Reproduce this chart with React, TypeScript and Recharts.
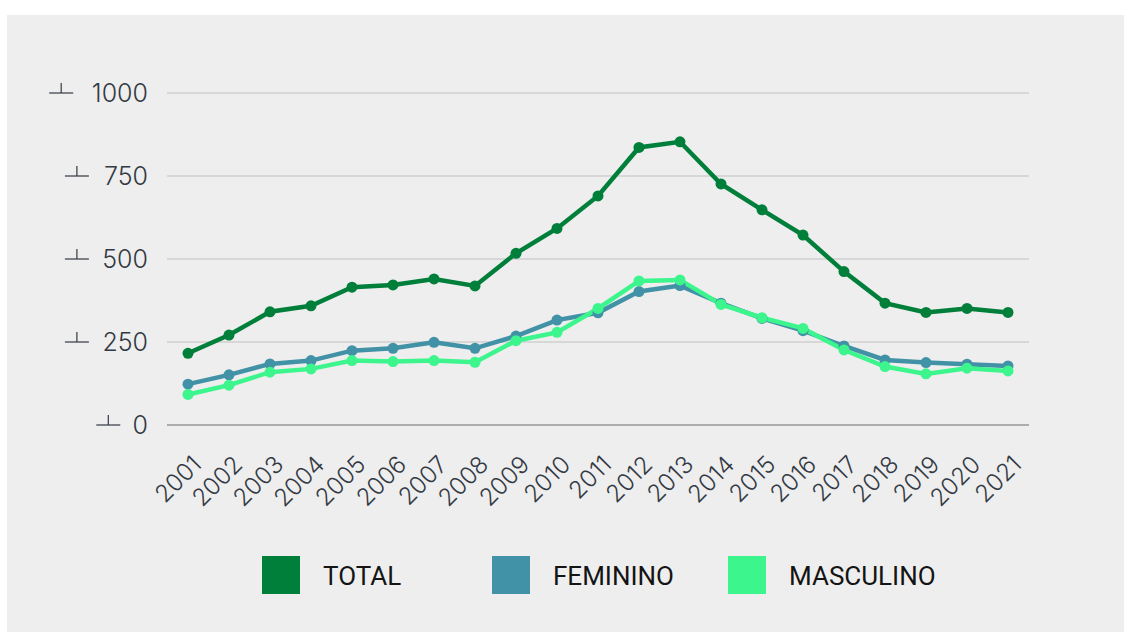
import { CartesianGrid, Line, LineChart, XAxis, YAxis } from "recharts";

const YEARS = [
  "2001", "2002", "2003", "2004", "2005", "2006", "2007", "2008", "2009", "2010", "2011",
  "2012", "2013", "2014", "2015", "2016", "2017", "2018", "2019", "2020", "2021",
];
const TOTAL = [216, 271, 341, 359, 415, 422, 440, 419, 517, 592, 690, 836, 853, 726, 648, 572, 462, 367, 339, 351, 339];
const FEMININO = [123, 151, 184, 194, 224, 231, 249, 231, 268, 316, 338, 402, 420, 367, 321, 284, 238, 196, 188, 183, 178];
const MASCULINO = [92, 120, 159, 169, 194, 191, 194, 189, 254, 279, 351, 434, 437, 363, 323, 291, 226, 176, 154, 171, 163];
const Y_TICKS = [0, 250, 500, 750, 1000];

const SERIES = [
  { key: "total", name: "TOTAL", color: "#007f3a" },
  { key: "fem", name: "FEMININO", color: "#4192a6" },
  { key: "masc", name: "MASCULINO", color: "#3cf58d" },
];

const data = YEARS.map((year, i) => ({
  year,
  total: TOTAL[i],
  fem: FEMININO[i],
  masc: MASCULINO[i],
}));

const LABEL_RIGHT = 148;
const FONT = "Inter, 'Noto Sans', sans-serif";

function YTick({ y, payload }: any) {
  const label = String(payload.value);
  // rough width so the little up-tack sits just left of the number
  const w = label.length * 15.7;
  const tx = LABEL_RIGHT - w - 12;
  return (
    <g>
      <line x1={tx - 24} x2={tx} y1={y} y2={y} stroke="#333a44" strokeWidth={1.2} />
      <line x1={tx - 12} x2={tx - 12} y1={y - 10} y2={y} stroke="#333a44" strokeWidth={1.2} />
      <text x={LABEL_RIGHT} y={y} dy={9} textAnchor="end" fill="#333a44" fontSize={25} fontFamily={FONT} fontWeight={300}>
        {label}
      </text>
    </g>
  );
}

function XTick({ x, y, payload }: any) {
  const ax = x + 15;
  const ay = y + 33;
  return (
    <text
      x={ax}
      y={ay}
      textAnchor="end"
      fill="#333a44"
      fontSize={24}
      fontWeight={300}
      fontFamily={FONT}
      transform={`rotate(-45, ${ax}, ${ay})`}
    >
      {payload.value}
    </text>
  );
}

const LEGEND_X = [262, 492, 728];

export default function App() {
  return (
    <div style={{ position: "absolute", left: 0, top: 0, width: 1131, height: 637, background: "#fff" }}>
      <div style={{ position: "absolute", left: 7, top: 15, width: 1117, height: 617, background: "#eeeeee" }} />
      <div style={{ position: "absolute", left: 0, top: 0 }}>
        <LineChart
          width={1131}
          height={540}
          data={data}
          margin={{ top: 93, right: 102, bottom: 55, left: 47 }}
        >
          <CartesianGrid stroke="#cfcfcf" strokeWidth={1.5} vertical={false} />
          <XAxis
            dataKey="year"
            height={60}
            interval={0}
            padding={{ left: 21, right: 21 }}
            tickLine={false}
            axisLine={{ stroke: "#9e9e9e", strokeWidth: 1.5 }}
            tick={<XTick />}
          />
          <YAxis
            width={120}
            domain={[0, 1000]}
            ticks={Y_TICKS}
            tickLine={false}
            axisLine={false}
            tick={<YTick />}
          />
          {SERIES.map((s) => (
            <Line
              key={s.key}
              dataKey={s.key}
              name={s.name}
              stroke={s.color}
              strokeWidth={4.5}
              dot={{ r: 5.5, fill: s.color, stroke: s.color, strokeWidth: 0 }}
              isAnimationActive={false}
            />
          ))}
        </LineChart>
      </div>
      {SERIES.map((s, i) => (
        <div key={s.key}>
          <div
            style={{
              position: "absolute",
              left: LEGEND_X[i],
              top: 556,
              width: 38,
              height: 38,
              background: s.color,
            }}
          />
          <div
            style={{
              position: "absolute",
              left: LEGEND_X[i] + 61,
              top: 558,
              height: 36,
              lineHeight: "36px",
              fontFamily: "Roboto, sans-serif",
              fontSize: 26,
              color: "#141414",
            }}
          >
            {s.name}
          </div>
        </div>
      ))}
    </div>
  );
}
